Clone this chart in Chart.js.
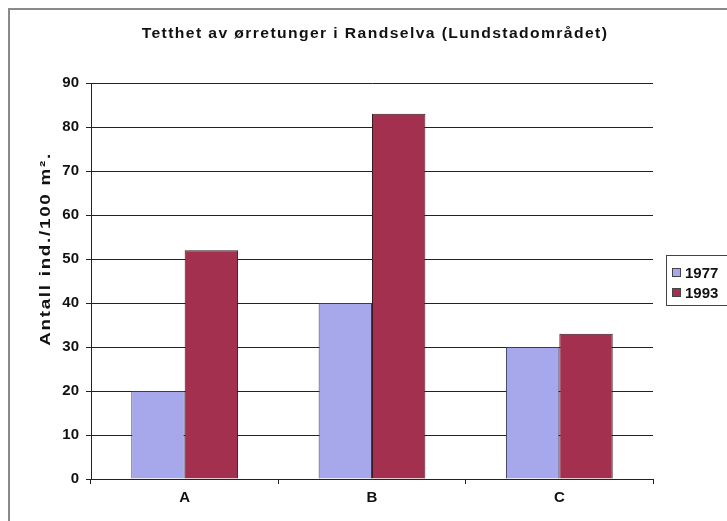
<!DOCTYPE html>
<html>
<head>
<meta charset="utf-8">
<script src="https://cdn.jsdelivr.net/npm/chart.js@4"></script>
<style>
  html, body { margin: 0; padding: 0; background: #fff; }
  #wrap { width: 727px; height: 521px; }
</style>
</head>
<body>
<div id="wrap"><canvas id="chart" width="727" height="521"></canvas></div>
<script>
const categories = ["A", "B", "C"];
const series1977 = [20, 40, 30];
const series1993 = [52, 83, 33];
const seriesNames = ["1977", "1993"];
const yTicks = [0, 10, 20, 30, 40, 50, 60, 70, 80, 90];
const chartTitle = "Tetthet av ørretunger i Randselva (Lundstadområdet)";
const yTitle = "Antall ind./100 m².";

const fontFam = "'Liberation Sans', Arial, sans-serif";

// frame, titles and the little legend box on the right
const extras = {
  id: 'extras',
  afterDraw(chart) {
    const ctx = chart.ctx;
    ctx.save();
    ctx.strokeStyle = '#8a8a8a';
    ctx.lineWidth = 2;
    ctx.beginPath();
    ctx.moveTo(9, 530);
    ctx.lineTo(9, 9);
    ctx.lineTo(740, 9);
    ctx.stroke();

    ctx.fillStyle = '#111';
    ctx.textAlign = 'center';
    ctx.textBaseline = 'middle';

    // chart title, a bit wide like the scan
    ctx.save();
    ctx.translate(375, 34);
    ctx.scale(1.12, 1);
    ctx.font = 'bold 14px ' + fontFam;
    ctx.letterSpacing = '1.25px';
    ctx.fillText(chartTitle, 0, 0);
    ctx.restore();

    // y axis title, rotated
    ctx.save();
    ctx.translate(46, 249);
    ctx.rotate(-Math.PI / 2);
    ctx.scale(1.25, 1);
    ctx.font = 'bold 15px ' + fontFam;
    ctx.letterSpacing = '1.4px';
    ctx.fillText(yTitle, 0, 0);
    ctx.restore();

    // legend
    ctx.strokeStyle = '#444';
    ctx.lineWidth = 1;
    ctx.strokeRect(666.5, 255.5, 80, 50);
    ctx.textAlign = 'left';
    ctx.font = 'bold 15px ' + fontFam;
    chart.data.datasets.forEach((ds, i) => {
      const y = 273 + i * 20;
      ctx.fillStyle = ds.backgroundColor;
      ctx.fillRect(672.5, y - 4.5, 8, 8);
      ctx.strokeStyle = '#444';
      ctx.strokeRect(672.5, y - 4.5, 8, 8);
      ctx.fillStyle = '#111';
      ctx.fillText(ds.label, 685, y + 1);
    });
    ctx.restore();
  }
};

new Chart(document.getElementById("chart"), {
  type: 'bar',
  data: {
    labels: categories,
    datasets: [{
        label: seriesNames[0],
        data: series1977,
        backgroundColor: "#a7a7ec",
        borderColor: "#3a3a5a",
        borderWidth: 1
      }, {
        label: seriesNames[1],
        data: series1993,
        backgroundColor: "#a3304f",
        borderColor: "#3a1a22",
        borderWidth: 1
      }
    ]
  },
  options: {
    responsive: false,
    animation: false,
    layout: { padding: { top: 83, right: 74, left: 0, bottom: 0 } },
    plugins: {
      legend: { display: false },
      title: { display: false },
      tooltip: { enabled: false }
    },
    datasets: {
      bar: { categoryPercentage: 0.57, barPercentage: 1.0 }
    },
    scales: {
      x: {
        afterFit(scale) { scale.height = 42; },
        grid: { display: true, drawOnChartArea: false, drawTicks: true, tickLength: 5, color: '#222', offset: true },
        border: { color: '#222', width: 1 },
        ticks: { color: '#111', font: { family: fontFam, size: 15, weight: 'bold' }, padding: 5 }
      },
      y: {
        min: 0,
        max: 90,
        afterFit(scale) { scale.width = 91; },
        afterBuildTicks(scale) { scale.ticks = yTicks.map(v => ({ value: v })); },
        grid: { color: '#222', lineWidth: 1, tickLength: 5 },
        border: { color: '#222', width: 1 },
        ticks: { color: '#111', font: { family: fontFam, size: 15, weight: 'bold' }, padding: 7 }
      }
    }
  },
  plugins: [extras]
});
</script>
</body>
</html>
